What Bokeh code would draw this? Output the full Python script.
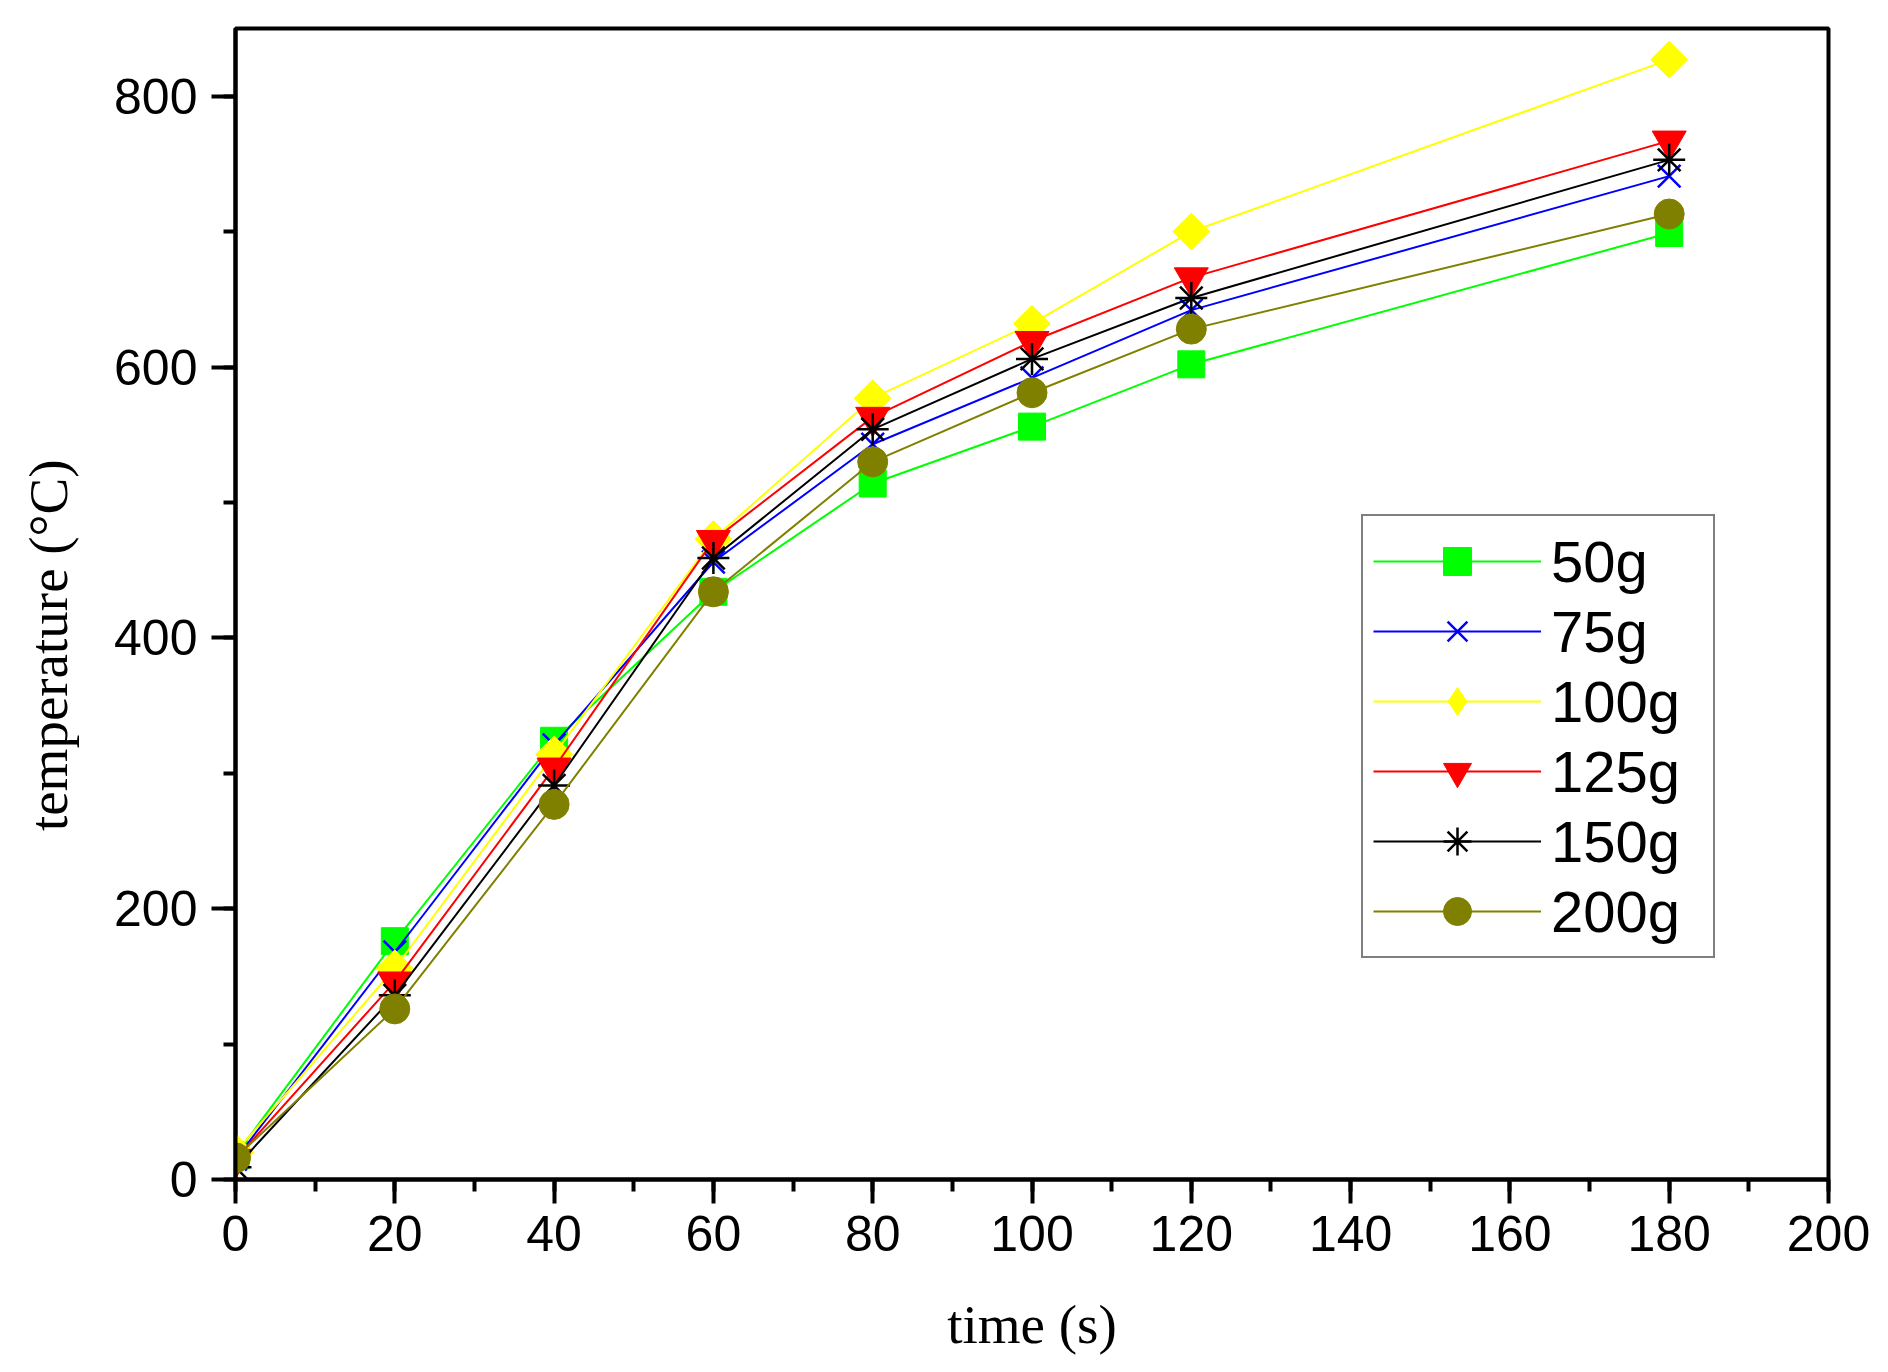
import math
from bokeh.plotting import figure
from bokeh.models import Range1d, SingleIntervalTicker, Legend, LegendItem
from bokeh.embed import file_html
from bokeh.resources import INLINE

time_s = [0, 20, 40, 60, 80, 100, 120, 180]
t_50g = [18, 176, 324, 434, 514, 556, 602, 699]
t_75g = [15, 168, 321, 456, 543, 592, 642, 741]
t_100g = [20, 156, 314, 473, 577, 632, 700, 827]
t_125g = [15, 146, 304, 472, 563, 619, 666, 767]
t_150g = [9, 136, 291, 459, 554, 606, 651, 753]
t_200g = [16, 126, 277, 434, 530, 581, 628, 713]

labels = ["50g", "75g", "100g", "125g", "150g", "200g"]
series = [t_50g, t_75g, t_100g, t_125g, t_150g, t_200g]
colors = ["#00FF00", "#0000FF", "#FFFF00", "#FF0000", "#000000", "#808000"]
markers = ["square", "x", "square", "inverted_triangle", "asterisk", "circle"]
legend_markers = ["square", "x", "diamond", "inverted_triangle", "asterisk", "circle"]
angles = [0, 0, math.pi / 4, 0, 0, 0]
sizes = [27, 32, 26, 34, 32, 30]

p = figure(output_backend="svg", toolbar_location=None,
           frame_width=1593, frame_height=1151,
           min_border_left=235, min_border_right=44,
           min_border_top=28, min_border_bottom=177,
           x_range=Range1d(0, 200), y_range=Range1d(0, 850))

p.xgrid.visible = False
p.ygrid.visible = False
p.outline_line_color = "black"
p.outline_line_width = 4
p.background_fill_color = "white"
p.border_fill_color = "white"

p.xaxis.ticker = SingleIntervalTicker(interval=20, num_minor_ticks=2)
p.yaxis.ticker = SingleIntervalTicker(interval=200, num_minor_ticks=2)

for ax in (p.xaxis[0], p.yaxis[0]):
    ax.axis_line_width = 4
    ax.axis_line_color = "black"
    ax.major_tick_line_width = 4
    ax.minor_tick_line_width = 4
    ax.major_tick_out = 24
    ax.major_tick_in = 0
    ax.minor_tick_out = 12
    ax.minor_tick_in = 0
    ax.major_label_text_font = "Liberation Sans"
    ax.major_label_text_font_size = "50px"
    ax.major_label_text_color = "black"
    ax.axis_label_text_font = "Liberation Serif"
    ax.axis_label_text_font_size = "55px"
    ax.axis_label_text_font_style = "normal"
    ax.axis_label_text_color = "black"

nb = "\u00a0"
p.xaxis.axis_label = "time (s)"
p.yaxis.axis_label = "temperature (°C)" + nb * 6
p.xaxis.major_label_standoff = 12
p.yaxis.major_label_standoff = 14
p.xaxis.axis_label_standoff = 40
p.yaxis.axis_label_standoff = 32

items = []
for lab, ys, c, m, lm, a, s in zip(labels, series, colors, markers, legend_markers, angles, sizes):
    ln = p.line(time_s, ys, line_color=c, line_width=2)
    lw = 2.5 if m in ("x", "asterisk") else 1
    sc = p.scatter(time_s, ys, marker=m, size=s, angle=a,
                   fill_color=c, line_color=c, line_width=lw)
    if lm != m:
        leg_r = p.scatter(time_s, ys, marker=lm, size=s, fill_color=c,
                          line_color=c, line_width=lw, visible=False)
        items.append(LegendItem(label=lab, renderers=[ln, leg_r]))
    else:
        items.append(LegendItem(label=lab, renderers=[ln, sc]))

legend = Legend(items=items, location=(1126, 221),
                glyph_width=168, glyph_height=70, label_height=70,
                label_standoff=10, label_width=152, padding=10, spacing=0,
                label_text_font="Liberation Sans", label_text_font_size="58px",
                label_text_color="black",
                border_line_color="black", border_line_width=2,
                background_fill_color="white", background_fill_alpha=1.0)
p.add_layout(legend)

open("out.html", "w").write(file_html(p, INLINE))
